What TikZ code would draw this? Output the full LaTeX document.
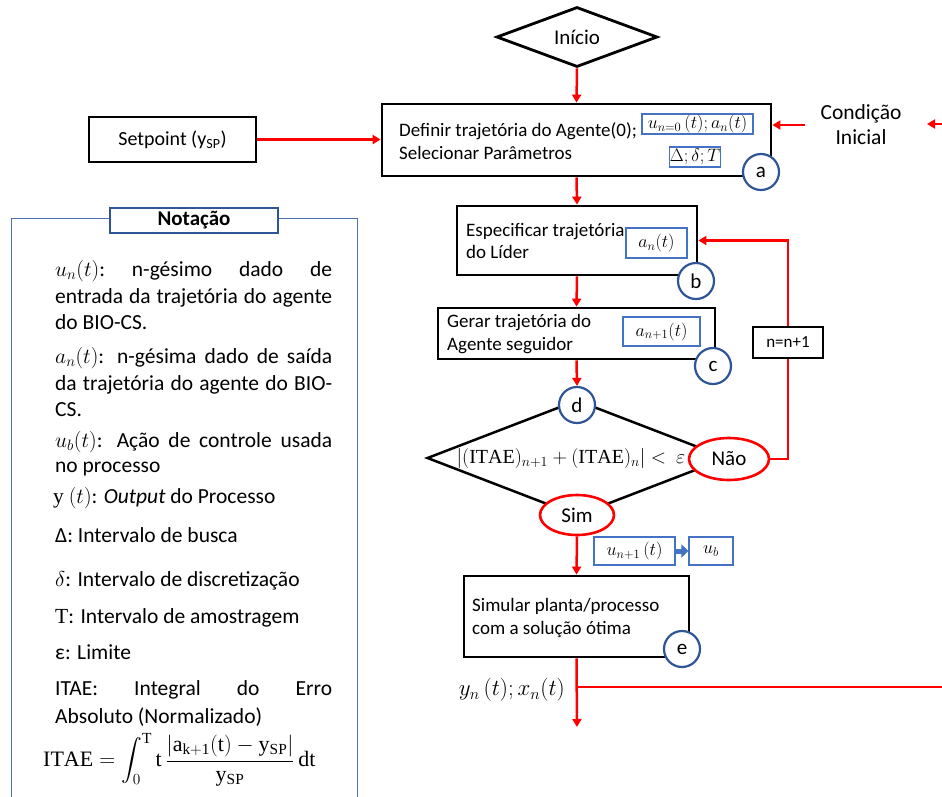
\RequirePackage{fix-cm}
\documentclass[tikz,border=0pt]{standalone}
\usepackage{amsmath}
\usepackage{fontspec}
\setmainfont{Carlito}
\setmathrm{Liberation Serif}
\usetikzlibrary{arrows.meta,shapes.geometric,calc}

\definecolor{cred}{RGB}{255,0,0}
\definecolor{cnavy}{RGB}{47,85,151}
\definecolor{cblue}{RGB}{68,114,196}
\definecolor{cpanel}{RGB}{79,112,176}

\newcommand{\fs}[1]{\fontsize{#1}{1.2\dimexpr#1pt\relax}\selectfont}
\newcommand{\jline}[1]{\hbox to 277pt{#1}}

\tikzset{
  x=1pt, y=-1pt,
  blk/.style={draw=black, line width=2.8pt, fill=white, inner sep=0pt},
  mbox/.style={draw=cblue, line width=1.1pt, fill=white, inner sep=0pt, font=\fs{18}},
  lab/.style={circle, draw=cnavy, line width=2.2pt, fill=white, minimum size=36pt, inner sep=0pt, font=\fs{21}},
  oval/.style={ellipse, draw=cred, line width=2.6pt, fill=white, inner sep=0pt, font=\fs{21}},
  rline/.style={draw=cred, line width=2.5pt},
  rarr/.style={rline, -{Triangle[length=8pt,width=9pt]}},
  btxt/.style={anchor=west, align=left, inner sep=0pt, font=\fs{19}},
  ntxt/.style={anchor=base west, inner sep=0pt, font=\fs{21.5}},
}

\begin{document}
\begin{tikzpicture}
\useasboundingbox (0,0) rectangle (942,796);

% notation panel
\node[draw=cpanel, line width=1.3pt, minimum width=346pt, minimum height=600pt,
      anchor=north west, inner sep=0pt] (panel) at (11,218) {};
\node[draw=cnavy, line width=2pt, fill=white, minimum width=168pt, minimum height=25pt,
      inner sep=0pt, font=\fs{21}\bfseries] (ntitle) at (194,220.5) {Notação};

\node[ntxt] (n1) at (55,276) {\jline{$u_n(t)$:\hfill n-gésimo\hfill dado\hfill de}};
\node[ntxt] (n2) at (55,303) {\jline{entrada da trajetória do agente}};
\node[ntxt] (n3) at (55,329) {do BIO-CS.};
\node[ntxt] (n4) at (55,363) {\jline{$a_n(t)$: n-gésima dado de saída}};
\node[ntxt] (n5) at (55,390) {\jline{da trajetória do agente do BIO-}};
\node[ntxt] (n6) at (55,416) {CS.};
\node[ntxt] (n7) at (55,447) {\jline{$u_b(t)$: Ação de controle usada}};
\node[ntxt] (n8) at (55,472) {no processo};
\node[ntxt] (n9) at (53,503) {$\mathrm{y}\ (t)$: \textit{Output} do Processo};
\node[ntxt] (n10) at (55,542) {Δ: Intervalo de busca};
\node[ntxt] (n11) at (55,586) {$\delta$: Intervalo de discretização};
\node[ntxt] (n12) at (55,623) {$\mathrm{T}$: Intervalo de amostragem};
\node[ntxt] (n13) at (55,659) {ε: Limite};
\node[ntxt] (n14) at (55,695) {\jline{ITAE:\hfill Integral\hfill do\hfill Erro}};
\node[ntxt] (n15) at (55,723) {Absoluto (Normalizado)};
\node[anchor=west, inner sep=0pt, font=\fs{22}] (itae) at (43,760)
  {$\displaystyle \mathrm{ITAE} = \int_0^{\mathrm{T}} \mathrm{t}\,
   \frac{|\mathrm{a_{k+1}(t)} - \mathrm{y_{SP}}|}{\mathrm{y_{SP}}}\,\mathrm{dt}$};

% start and first step
\node[diamond, draw=black, line width=2.8pt, fill=white, inner sep=0pt, shape aspect=2.7,
      minimum width=161pt, minimum height=60pt, font=\fs{21}] (inicio) at (577,37) {Início};

\node[blk, minimum width=389pt, minimum height=72pt] (boxa) at (576.5,140) {};
\node[btxt] (ta) at (399,141) {Definir trajetória do Agente(0);\\Selecionar Parâmetros};
\node[mbox, minimum width=111pt, minimum height=20pt] (ma1) at (697.5,124) {$u_{n=0}\,(t); a_n(t)$};
\node[mbox, minimum width=50pt, minimum height=20pt] (ma2) at (695,157) {$\Delta;\delta;T$};
\node[lab] (ca) at (761,172) {a};

\node[blk, minimum width=167pt, minimum height=45pt, font=\fs{20}] (setp) at (172.5,139.5)
  {Setpoint (y\textsubscript{SP})};
\node[align=center, inner xsep=15pt, inner ysep=0pt, font=\fontsize{21.5}{25}\selectfont] (cond)
  at (861,125) {Condição\\Inicial};
\coordinate (redge) at (942,124);
\coordinate (rtip) at (927,124);

% leader / follower steps
\node[blk, minimum width=240pt, minimum height=69pt] (boxb) at (577,240.5) {};
\node[btxt] (tb) at (466,241) {Especificar trajetória\\do Líder};
\node[mbox, minimum width=61pt, minimum height=30pt] (mb) at (656.5,243) {$a_n(t)$};
\node[lab] (cb) at (696,281) {b};

\node[blk, minimum width=277pt, minimum height=51pt] (boxc) at (576.5,333.5) {};
\node[btxt] (tc) at (447,334) {Gerar trajetória do\\Agente seguidor};
\node[mbox, minimum width=77pt, minimum height=29pt] (mc) at (661.5,331.5) {$a_{n+1}(t)$};
\node[lab] (cc) at (713,366) {c};

\node[blk, minimum width=70pt, minimum height=31pt, font=\fs{17}] (nn) at (788,342.5) {n=n+1};

% decision
\node[diamond, draw=black, line width=2.5pt, inner sep=0pt, minimum width=300pt,
      minimum height=116pt] (dec) at (577,458) {};
\node[inner sep=0pt, font=\fs{20}] (dtxt) at (571,458)
  {$|(\mathrm{ITAE})_{n+1} +(\mathrm{ITAE})_n| <\ \varepsilon$};
\node[lab] (cd) at (577,405) {d};
\node[oval, minimum width=80pt, minimum height=42pt] (nao) at (729,459) {Não};
\node[oval, minimum width=74pt, minimum height=40pt] (sim) at (577,515) {Sim};

% final step
\node[mbox, minimum width=81pt, minimum height=28pt] (mu) at (634.5,551) {$u_{n+1}\,(t)$};
\node[mbox, minimum width=44pt, minimum height=28pt] (mub) at (711,551) {$u_b$};
\node[blk, minimum width=225pt, minimum height=81pt] (boxe) at (576.5,616.5) {};
\node[btxt] (te) at (472,618) {Simular planta/processo\\com a solução ótima};
\node[lab] (ce) at (682,649) {e};
\node[anchor=east, inner sep=0pt, font=\fs{23}] (yl) at (565,690) {$y_n\,(t); x_n(t)$};
\coordinate (jn) at (577,687);
\coordinate (outend) at (577,727);
\coordinate (rb) at (942,687);

% connectors
\draw[rarr] (inicio.south) -- (boxa.north);
\draw[rarr] (setp.east) -- (setp.east -| boxa.west);
\draw[rarr] (cond.west) -- (cond.west -| boxa.east);
\draw[rarr] (redge) -- (rtip);
\draw[rarr] (boxa.south) -- (boxb.north);
\draw[rarr] (boxb.south) -- (boxc.north);
\draw[rarr] (boxc.south) -- (cd.north);
\draw[rline] (nao.east) -| (nn.south);
\draw[rarr] (nn.north) |- (boxb.east);
\draw[rarr] (sim.south) -- (boxe.north);
\draw[draw=cblue, line width=5pt, -{Triangle[length=7pt,width=13pt]}] (mu.east) -- (mub.west);
\draw[rarr] (boxe.south) -- (outend);
\draw[rline] (jn) -- (rb);
\end{tikzpicture}
\end{document}
